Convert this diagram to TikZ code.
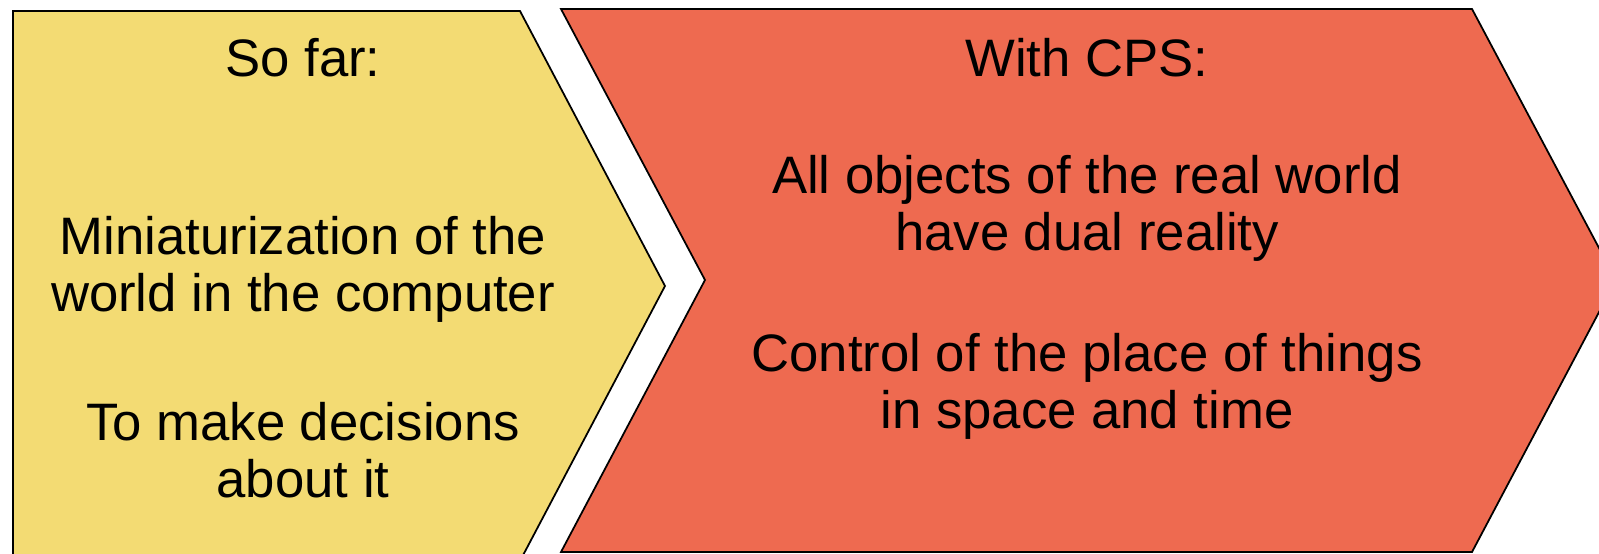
\documentclass[tikz,border=0pt]{standalone}
\usepackage{fontspec}
\setmainfont{Liberation Sans}
\usepackage{tikz}
\usetikzlibrary{positioning}
\definecolor{cpsyellow}{RGB}{243,219,115}
\definecolor{cpsred}{RGB}{238,106,80}
\begin{document}
\begin{tikzpicture}[
  x=0.02cm, y=-0.02cm,
  font=\fontsize{30}{32}\selectfont,
  panel/.style={draw=black, line width=1pt, line join=miter},
  txt/.style={align=center, inner sep=0pt, anchor=base}
]
\useasboundingbox (0,0) rectangle (1599,554);
% ---- the two panels, cut at the page edge ----
\begin{scope}
  \clip (0,0) rectangle (1599,554);
  \path[panel, fill=cpsyellow] (13,11) -- (520,11) -- (665,286) -- (520,561) -- (13,561) -- cycle;
  \path[panel, fill=cpsred] (561,9) -- (1472,9) -- (1616,280) -- (1472,552) -- (561,552) -- (705,280) -- cycle;
\end{scope}
% ---- left panel: so far (base = last line) ----
\node[txt] (sofar) at (303,77) {So far:};
\node[txt] (mini) at (303,311) {Miniaturization of the\\world in the computer};
\node[txt] (decide) at (303,497) {To make decisions\\about it};
% ---- right panel: with CPS ----
\node[txt] (withcps) at (1087,77) {With CPS:};
\node[txt] (dual) at (1087,250) {All objects of the real world\\have dual reality};
\node[txt] (control) at (1087,428) {Control of the place of things\\in space and time};
\end{tikzpicture}
\end{document}
